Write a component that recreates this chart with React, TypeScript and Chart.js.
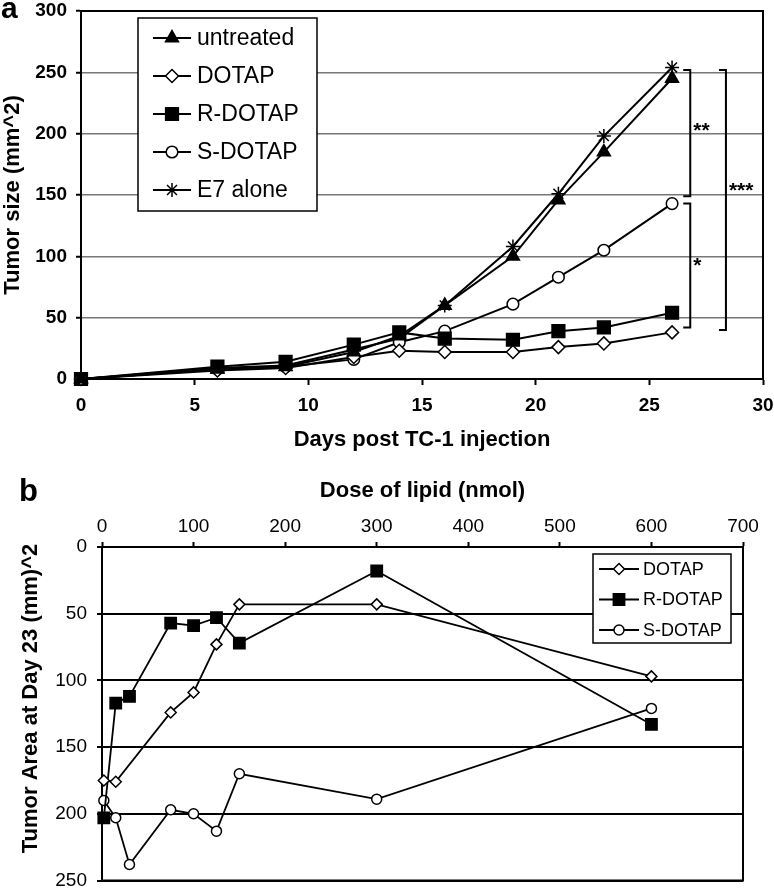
import React, { useEffect, useRef } from 'react';
import { Chart, registerables } from 'chart.js';
import { drawPoint } from 'chart.js/helpers';

Chart.register(...registerables);

const FONT = '"Liberation Sans", Arial, Helvetica, sans-serif';

// ---------- Panel a data ----------
const daysA = [0, 6, 9, 12, 14, 16, 19, 21, 23, 26];
const untreatedA = [0, 8, 10, 22, 35, 60, 100, 146, 185, 245];
const dotapA = [0, 7, 9, 18, 23, 22, 22, 26, 29, 38];
const rDotapA = [0, 10, 14, 28, 38, 33, 32, 39, 42, 54];
const sDotapA = [0, 8, 10, 16, 30, 39, 61, 83, 105, 143];
const e7AloneA = [0, 9, 11, 24, 33, 60, 108, 151, 198, 254];
const xTicksA = [0, 5, 10, 15, 20, 25, 30];
const yTicksA = [0, 50, 100, 150, 200, 250, 300];

// significance brackets (x in days, y in mm^2)
const bracketX = [26.8, 26.8, 28.37];
const bracketFrom = [252, 143, 252];
const bracketTo = [149, 42, 40];
const bracketLabel = ['**', '*', '***'];
const bracketLabelY = [208, 98, 159];

// ---------- Panel b data ----------
const dotapDoseB = [2, 15, 75, 100, 125, 150, 300, 600];
const dotapB = [175, 176, 124, 109, 73, 43, 43, 97];
const rDotapDoseB = [2, 15, 30, 75, 100, 125, 150, 300, 600];
const rDotapB = [203, 117, 112, 57, 59, 53, 72, 18, 133];
const sDotapDoseB = [2, 15, 30, 75, 100, 125, 150, 300, 600];
const sDotapB = [190, 203, 238, 197, 200, 213, 170, 189, 121];
const xTicksB = [0, 100, 200, 300, 400, 500, 600, 700];
const yTicksB = [0, 50, 100, 150, 200, 250];

const pts = (xs: number[], ys: number[]) => xs.map((x, i) => ({ x, y: ys[i] }));

const boxLegendPlugin = {
  id: 'boxLegend',
  afterDraw(chart: any, _args: any, opts: any) {
    if (!opts || !opts.display) return;
    const { ctx } = chart;
    const { left, top, width, height, firstRow, rowGap, padX, lineLen, textGap, font, lineWidth } = opts;
    ctx.save();
    ctx.fillStyle = '#fff';
    ctx.fillRect(left, top, width, height);
    ctx.strokeStyle = '#000';
    ctx.lineWidth = 1.5;
    ctx.strokeRect(left, top, width, height);
    chart.data.datasets.forEach((ds: any, i: number) => {
      const y = top + firstRow + i * rowGap;
      const x0 = left + padX;
      ctx.strokeStyle = '#000';
      ctx.lineWidth = lineWidth;
      ctx.beginPath();
      ctx.moveTo(x0, y);
      ctx.lineTo(x0 + lineLen, y);
      ctx.stroke();
      ctx.fillStyle = ds.pointBackgroundColor;
      ctx.strokeStyle = ds.pointBorderColor;
      ctx.lineWidth = ds.pointBorderWidth;
      drawPoint(ctx, { pointStyle: ds.pointStyle, radius: ds.pointRadius, rotation: 0, borderWidth: ds.pointBorderWidth } as any, x0 + lineLen / 2, y);
      ctx.fillStyle = '#000';
      ctx.font = font;
      ctx.textBaseline = 'middle';
      ctx.textAlign = 'left';
      ctx.fillText(ds.label, x0 + lineLen + textGap, y + 1);
    });
    ctx.restore();
  },
};

const frameExtrasPlugin = {
  id: 'frameExtras',
  afterDraw(chart: any, _args: any, opts: any) {
    const { ctx, chartArea } = chart;
    ctx.save();
    // plot frame
    ctx.strokeStyle = '#000';
    ctx.lineWidth = opts.frameWidth || 2;
    ctx.beginPath();
    ctx.moveTo(chartArea.left, chartArea.top);
    ctx.lineTo(chartArea.right, chartArea.top);
    ctx.lineTo(chartArea.right, chartArea.bottom);
    ctx.lineTo(chartArea.left, chartArea.bottom);
    ctx.stroke();
    // panel letter
    if (opts.letter) {
      ctx.fillStyle = '#000';
      ctx.font = opts.letter.font;
      ctx.textAlign = 'left';
      ctx.textBaseline = 'alphabetic';
      ctx.fillText(opts.letter.text, opts.letter.x, opts.letter.y);
    }
    // rotated custom title
    if (opts.yTitle) {
      ctx.save();
      ctx.translate(opts.yTitle.x, opts.yTitle.y);
      ctx.rotate(-Math.PI / 2);
      ctx.font = opts.yTitle.font;
      ctx.textAlign = 'center';
      ctx.textBaseline = 'middle';
      ctx.fillStyle = '#000';
      ctx.fillText(opts.yTitle.text, 0, 0);
      ctx.restore();
    }
    // brackets
    if (opts.brackets) {
      const xs = chart.scales.x;
      const ys = chart.scales.y;
      ctx.strokeStyle = '#000';
      ctx.lineWidth = 2;
      bracketX.forEach((bx, i) => {
        const X = xs.getPixelForValue(bx);
        const Y1 = ys.getPixelForValue(bracketFrom[i]);
        const Y2 = ys.getPixelForValue(bracketTo[i]);
        ctx.beginPath();
        ctx.moveTo(X - 7, Y1);
        ctx.lineTo(X, Y1);
        ctx.lineTo(X, Y2);
        ctx.lineTo(X - 7, Y2);
        ctx.stroke();
        ctx.fillStyle = '#000';
        ctx.font = 'bold 21px ' + FONT;
        ctx.textAlign = 'left';
        ctx.textBaseline = 'middle';
        ctx.fillText(bracketLabel[i], X + 3, ys.getPixelForValue(bracketLabelY[i]) + 7);
      });
    }
    ctx.restore();
  },
};

function ChartA() {
  const ref = useRef<HTMLCanvasElement>(null);
  useEffect(() => {
    const mk = (label: string, data: number[], style: string, fill: string, radius: number) => ({
      label,
      data: pts(daysA, data),
      borderColor: '#000',
      borderWidth: 2,
      pointStyle: style,
      pointRadius: radius,
      pointBackgroundColor: fill,
      pointBorderColor: '#000',
      pointBorderWidth: 1.5,
      tension: 0,
      clip: false as any,
    });
    const chart = new Chart(ref.current!, {
      type: 'line',
      data: {
        datasets: [
          mk('untreated', untreatedA, 'triangle', '#000', 7.5),
          mk('DOTAP', dotapA, 'rectRot', '#fff', 6.5),
          mk('R-DOTAP', rDotapA, 'rect', '#000', 9),
          mk('S-DOTAP', sDotapA, 'circle', '#fff', 5.8),
          mk('E7 alone', e7AloneA, 'star', '#000', 7),
        ],
      },
      options: {
        animation: false,
        responsive: false,
        maintainAspectRatio: false,
        devicePixelRatio: 1,
        layout: { padding: { top: 11, right: 11, bottom: 0, left: 0 } },
        plugins: {
          legend: { display: false },
          tooltip: { enabled: false },
          boxLegend: {
            display: true, left: 138, top: 18, width: 179, height: 193,
            firstRow: 20, rowGap: 38, padX: 15, lineLen: 38, textGap: 6,
            font: '23px ' + FONT, lineWidth: 2,
          },
          frameExtras: {
            frameWidth: 2,
            letter: { text: 'a', x: 1, y: 18, font: 'bold 30px ' + FONT },
            brackets: true,
          },
        } as any,
        scales: {
          x: {
            type: 'linear',
            min: 0,
            max: 30,
            afterBuildTicks: (s: any) => { s.ticks = xTicksA.map((v) => ({ value: v })); },
            afterFit: (s: any) => { s.height = 76; s.paddingLeft = 0; s.paddingRight = 0; },
            ticks: { color: '#000', font: { family: FONT, size: 19, weight: 'bold' }, padding: 9, maxRotation: 0 },
            grid: { drawOnChartArea: false, drawTicks: true, tickLength: 6, tickColor: '#000', tickWidth: 2 },
            border: { display: true, color: '#000', width: 2 },
            title: {
              display: true, text: 'Days post TC-1 injection', color: '#000',
              font: { family: FONT, size: 22, weight: 'bold' }, padding: { top: 0, bottom: 2 },
            },
          },
          y: {
            type: 'linear',
            min: 0,
            max: 300,
            afterBuildTicks: (s: any) => { s.ticks = yTicksA.map((v) => ({ value: v })); },
            afterFit: (s: any) => { s.width = 81; s.paddingTop = 0; s.paddingBottom = 0; },
            ticks: { color: '#000', font: { family: FONT, size: 19, weight: 'bold' }, padding: 9 },
            grid: { color: '#777', lineWidth: 1.5, drawTicks: true, tickLength: 5, tickColor: '#000', tickWidth: 2 },
            border: { display: true, color: '#000', width: 2 },
            title: {
              display: true, text: 'Tumor size (mm^2)', color: '#000',
              font: { family: FONT, size: 22, weight: 'bold' }, padding: { top: 0, bottom: 0 },
            },
          },
        },
      },
      plugins: [boxLegendPlugin, frameExtrasPlugin],
    });
    return () => chart.destroy();
  }, []);
  return <canvas ref={ref} width={774} height={455} style={{ position: 'absolute', left: 0, top: 0, width: 774, height: 455 }} />;
}

function ChartB() {
  const ref = useRef<HTMLCanvasElement>(null);
  useEffect(() => {
    const mk = (label: string, xs: number[], ys: number[], style: string, fill: string, radius: number) => ({
      label,
      data: pts(xs, ys),
      borderColor: '#000',
      borderWidth: 1.8,
      pointStyle: style,
      pointRadius: radius,
      pointBackgroundColor: fill,
      pointBorderColor: '#000',
      pointBorderWidth: 1.5,
      tension: 0,
      clip: false as any,
    });
    const chart = new Chart(ref.current!, {
      type: 'line',
      data: {
        datasets: [
          mk('DOTAP', dotapDoseB, dotapB, 'rectRot', '#fff', 5.5),
          mk('R-DOTAP', rDotapDoseB, rDotapB, 'rect', '#000', 8),
          mk('S-DOTAP', sDotapDoseB, sDotapB, 'circle', '#fff', 5),
        ],
      },
      options: {
        animation: false,
        responsive: false,
        maintainAspectRatio: false,
        devicePixelRatio: 1,
        layout: { padding: { top: 0, right: 31, bottom: 8, left: 0 } },
        plugins: {
          legend: { display: false },
          tooltip: { enabled: false },
          boxLegend: {
            display: true, left: 593, top: 99, width: 138, height: 89,
            firstRow: 15, rowGap: 30.5, padX: 6, lineLen: 40, textGap: 4,
            font: '18px ' + FONT, lineWidth: 1.8,
          },
          frameExtras: {
            frameWidth: 2,
            letter: { text: 'b', x: 19, y: 46, font: 'bold 31px ' + FONT },
            yTitle: { text: 'Tumor Area at Day 23 (mm)^2', x: 31, y: 243.5, font: 'bold 22px ' + FONT },
          },
        } as any,
        scales: {
          x: {
            type: 'linear',
            position: 'top',
            min: 0,
            max: 700,
            afterBuildTicks: (s: any) => { s.ticks = xTicksB.map((v) => ({ value: v })); },
            afterFit: (s: any) => { s.height = 92; s.paddingLeft = 0; s.paddingRight = 0; },
            ticks: { color: '#000', font: { family: FONT, size: 19 }, padding: 4, maxRotation: 0 },
            grid: { drawOnChartArea: false, drawTicks: true, tickLength: 5, tickColor: '#000', tickWidth: 2 },
            border: { display: true, color: '#000', width: 2 },
            title: {
              display: true, text: 'Dose of lipid (nmol)', color: '#000',
              font: { family: FONT, size: 22, weight: 'bold' }, padding: { top: 23, bottom: 0 },
            },
          },
          y: {
            type: 'linear',
            reverse: true,
            min: 0,
            max: 250,
            afterBuildTicks: (s: any) => { s.ticks = yTicksB.map((v) => ({ value: v })); },
            afterFit: (s: any) => { s.width = 102; s.paddingTop = 0; s.paddingBottom = 0; },
            ticks: { color: '#000', font: { family: FONT, size: 19 }, padding: 10 },
            grid: { color: '#000', lineWidth: 2, drawTicks: true, tickLength: 5, tickColor: '#000', tickWidth: 2 },
            border: { display: true, color: '#000', width: 2 },
            title: { display: false },
          },
        },
      },
      plugins: [boxLegendPlugin, frameExtrasPlugin],
    });
    return () => chart.destroy();
  }, []);
  return <canvas ref={ref} width={774} height={435} style={{ position: 'absolute', left: 0, top: 455, width: 774, height: 435 }} />;
}

export default function App() {
  return (
    <div style={{ position: 'absolute', left: 0, top: 0, width: 774, height: 890, overflow: 'hidden', background: '#fff' }}>
      <ChartA />
      <ChartB />
    </div>
  );
}
